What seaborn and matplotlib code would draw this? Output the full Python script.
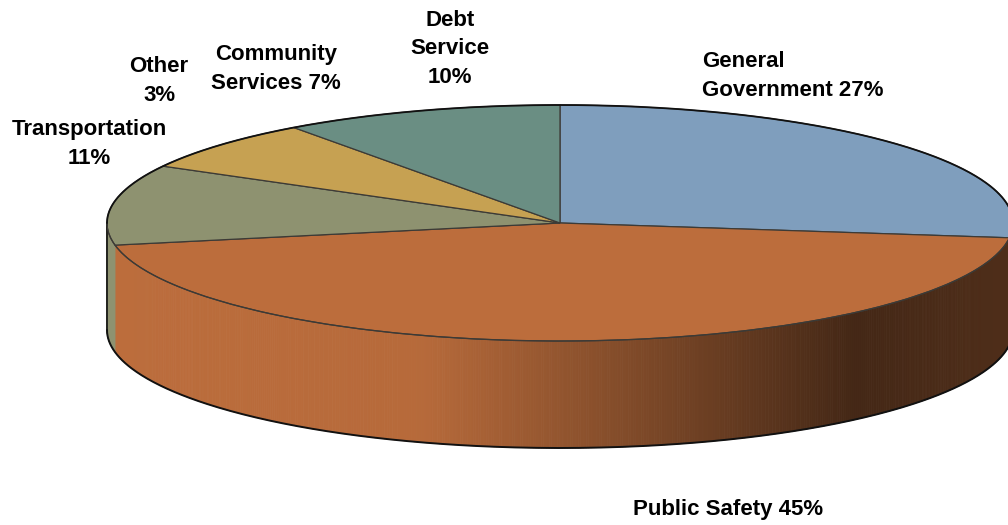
import numpy as np
import matplotlib
matplotlib.use("Agg")
import matplotlib.pyplot as plt
import seaborn as sns
from matplotlib.collections import PolyCollection
import matplotlib.colors as mcolors

# ---- data ----
categories = ["General Government", "Public Safety", "Transportation", "Other",
              "Community Services", "Debt Service"]
shares = [27, 45, 11, 3, 7, 10]                 # labelled percentages
wedge_values = [27, 45, 11, 0, 7, 10]           # "Other" has no visible wedge in the chart
colors = ["#7F9EBD", "#BC6D3C", "#8E9270", "#9A9A9A", "#C6A152", "#6A8E83"]
label_lines = ["General\nGovernment {}%", "Public Safety {}%", "Transportation\n{}%",
               "Other\n{}%", "Community\nServices {}%", "Debt\nService\n{}%"]

sns.set_theme(style="white")
plt.rcParams["font.family"] = ["Liberation Sans", "DejaVu Sans"]

W, H = 1008, 525
fig = plt.figure(figsize=(W / 100, H / 100), dpi=100)
ax = fig.add_axes([0, 0, 1, 1])

# geometry of the tilted pie (pixels)
cx, cy, rx, ry, depth_px = 560, 223, 453, 118, 107
depth = depth_px / ry

vals = np.array(wedge_values, dtype=float)
mask = vals > 0
draw_vals = vals[mask]
draw_cols = [c for c, m in zip(colors, mask) if m]

wedges, _ = ax.pie(draw_vals, colors=draw_cols, startangle=90, counterclock=False,
                   radius=1, center=(0, 0), frame=False,
                   wedgeprops=dict(edgecolor="#3c3a36", linewidth=0.9, zorder=3))

# side wall, from the same wedge angles
bounds = 90 - 360 * np.concatenate([[0], np.cumsum(draw_vals)]) / draw_vals.sum()
shade_c = [-1.0, -0.3, 0.1, 0.65, 1.0]
shade_f = [1.0, 0.97, 0.72, 0.36, 0.42]
polys, fcols = [], []
for i in range(len(draw_vals)):
    a0, a1 = bounds[i + 1], bounds[i]
    ts = np.linspace(a0, a1, max(int((a1 - a0) * 3), 2))
    base = np.array(mcolors.to_rgb(draw_cols[i]))
    for t0, t1 in zip(ts[:-1], ts[1:]):
        tm = np.deg2rad((t0 + t1) / 2)
        if np.sin(tm) > 0:
            continue
        r0, r1 = np.deg2rad(t0), np.deg2rad(t1)
        p = [(np.cos(r0), np.sin(r0)), (np.cos(r1), np.sin(r1)),
             (np.cos(r1), np.sin(r1) - depth), (np.cos(r0), np.sin(r0) - depth)]
        polys.append(p)
        f = np.interp(np.cos(tm), shade_c, shade_f)
        fcols.append(tuple(np.clip(base * f, 0, 1)))
pc = PolyCollection(polys, facecolors=fcols, edgecolors=fcols, linewidths=0.6, zorder=2)
ax.add_collection(pc)

# outline of the wall
tt = np.deg2rad(np.linspace(180, 360, 400))
ax.plot(np.cos(tt), np.sin(tt) - depth, color="#111111", lw=1.4, zorder=4)
ax.plot([-1, -1], [0, -depth], color="#111111", lw=1.2, zorder=4)
ax.plot([1, 1], [0, -depth], color="#111111", lw=1.2, zorder=4)
ax.plot(np.cos(tt), np.sin(tt), color="#3c3a36", lw=0.9, zorder=4)
tb = np.deg2rad(np.linspace(0, 180, 400))
ax.plot(np.cos(tb), np.sin(tb), color="#111111", lw=1.3, zorder=4)

ax.set_aspect("auto")
ax.set_xlim(-cx / rx, (W - cx) / rx)
ax.set_ylim(-(H - cy) / ry, cy / ry)
ax.axis("off")

# labels (figure pixel positions of the block centres)
label_pos = [(702, 76, "left"), (728, 510, "center"), (89, 144, "center"),
             (159, 81, "center"), (276, 69, "center"), (450, 49, "center")]
for txt, s, (px, py, ha) in zip(label_lines, shares, label_pos):
    fig.text(px / W, 1 - py / H, txt.format(s), ha=ha, va="center",
             fontsize=16, fontweight="bold", color="black",
             linespacing=1.45, multialignment=ha)

fig.savefig("out.png", dpi=100, facecolor="white")
